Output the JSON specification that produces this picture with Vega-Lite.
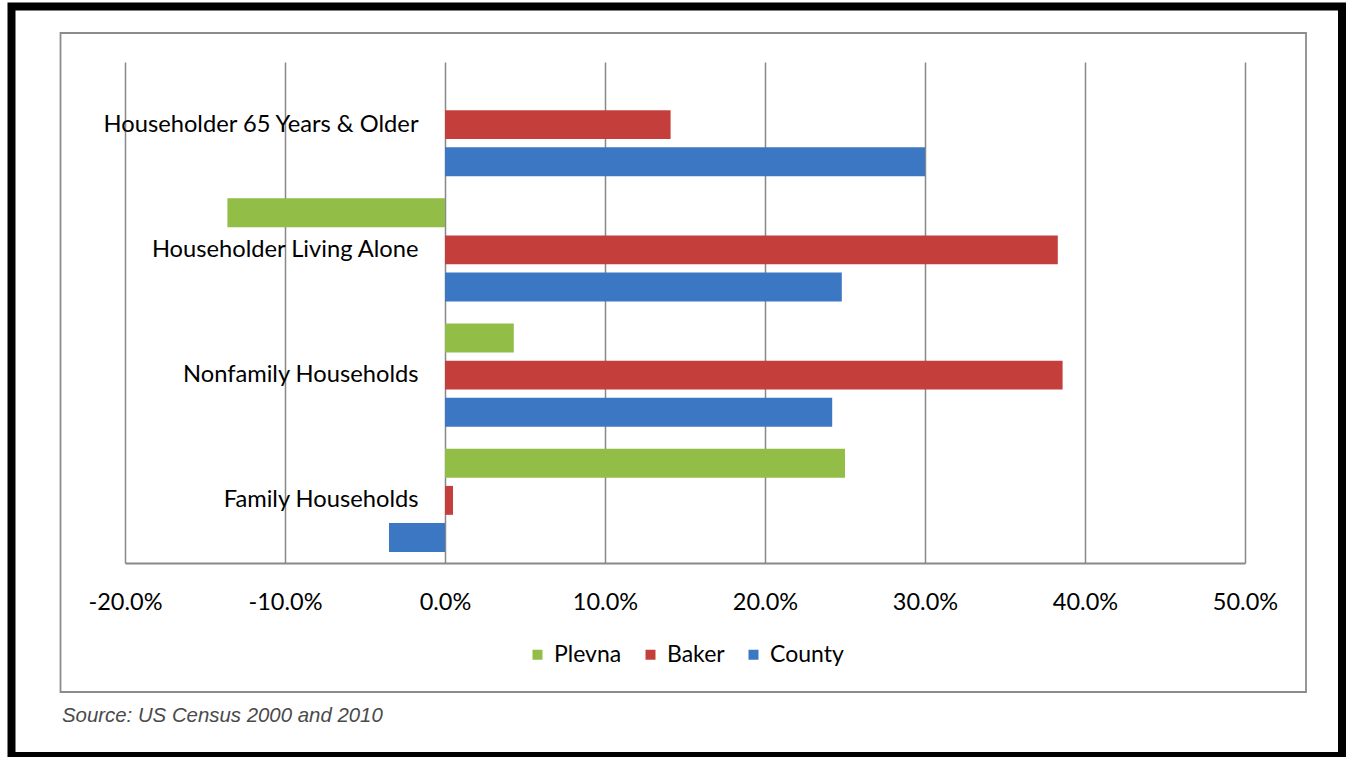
{
  "$schema": "https://vega.github.io/schema/vega-lite/v6.json",
  "width": 1120,
  "height": 501,
  "autosize": {"type": "none"},
  "padding": {"left": 125, "top": 62, "right": 103, "bottom": 194},
  "background": "white",
  "config": {
    "view": {"stroke": null},
    "font": "Lato"
  },
  "layer": [
    {
      "data": {"values": [{}]},
      "mark": {"type": "rect", "fill": null, "stroke": "#000000", "strokeWidth": 8},
      "encoding": {
        "x": {"datum": -0.27094, "type": "quantitative"},
        "x2": {"datum": 0.56063},
        "y": {"datum": 1.1108, "type": "quantitative", "scale": {"domain": [0, 1], "nice": false, "zero": false}, "axis": null},
        "y2": {"datum": -0.3852}
      }
    },
    {
      "data": {"values": [{}]},
      "mark": {"type": "rect", "fill": null, "stroke": "#8c8c8c", "strokeWidth": 1.8},
      "encoding": {
        "x": {"datum": -0.24031, "type": "quantitative"},
        "x2": {"datum": 0.53813},
        "y": {"datum": 1.0579, "type": "quantitative", "scale": {"domain": [0, 1], "nice": false, "zero": false}, "axis": null},
        "y2": {"datum": -0.2575}
      }
    },
    {
      "data": {"values": [{"source": "Source: US Census 2000 and 2010"}]},
      "mark": {"type": "text", "align": "left", "baseline": "middle", "font": "Liberation Sans", "fontStyle": "italic", "fontSize": 20.4, "color": "#4a4a4a"},
      "encoding": {
        "x": {"datum": -0.2394, "type": "quantitative"},
        "y": {"datum": -0.3054, "type": "quantitative", "scale": {"domain": [0, 1], "nice": false, "zero": false}, "axis": null},
        "text": {"field": "source"}
      }
    },
    {
      "data": {
        "values": [
          {"category": "Householder 65 Years & Older", "series": "Baker", "value": 0.141},
          {"category": "Householder 65 Years & Older", "series": "County", "value": 0.300},
          {"category": "Householder Living Alone", "series": "Plevna", "value": -0.136},
          {"category": "Householder Living Alone", "series": "Baker", "value": 0.383},
          {"category": "Householder Living Alone", "series": "County", "value": 0.248},
          {"category": "Nonfamily Households", "series": "Plevna", "value": 0.043},
          {"category": "Nonfamily Households", "series": "Baker", "value": 0.386},
          {"category": "Nonfamily Households", "series": "County", "value": 0.242},
          {"category": "Family Households", "series": "Plevna", "value": 0.250},
          {"category": "Family Households", "series": "Baker", "value": 0.005},
          {"category": "Family Households", "series": "County", "value": -0.035}
        ]
      },
      "mark": {"type": "bar"},
      "encoding": {
        "x": {
          "field": "value",
          "type": "quantitative",
          "scale": {"domain": [-0.2, 0.5], "nice": false, "zero": false},
          "axis": {
            "title": null,
            "values": [-0.2, -0.1, 0, 0.1, 0.2, 0.3, 0.4, 0.5],
            "format": ".1%",
            "labelExpr": "replace(datum.label, '−', '-')",
            "labelFlush": false,
            "grid": true,
            "gridColor": "#888888",
            "gridWidth": 1.5,
            "domain": true,
            "domainColor": "#888888",
            "domainWidth": 2,
            "ticks": false,
            "labelPadding": 27,
            "labelFont": "Lato",
            "labelFontSize": 23.5,
            "labelColor": "#000000"
          }
        },
        "y": {
          "field": "category",
          "type": "nominal",
          "sort": ["Householder 65 Years & Older", "Householder Living Alone", "Nonfamily Households", "Family Households"],
          "scale": {"paddingInner": 0, "paddingOuter": 0},
          "axis": {
            "title": null,
            "orient": "left",
            "offset": -320,
            "domain": false,
            "ticks": false,
            "grid": false,
            "labelPadding": 27,
            "labelFont": "Lato",
            "labelFontSize": 23.7,
            "labelColor": "#000000",
            "labelLimit": 0
          }
        },
        "yOffset": {
          "field": "series",
          "type": "nominal",
          "sort": ["Plevna", "Baker", "County"],
          "scale": {"paddingInner": 0.22, "paddingOuter": 0.3}
        },
        "color": {
          "field": "series",
          "type": "nominal",
          "sort": ["Plevna", "Baker", "County"],
          "scale": {"domain": ["Plevna", "Baker", "County"], "range": ["#92bd47", "#c43f3c", "#3c77c3"]},
          "legend": {
            "title": null,
            "orient": "none",
            "legendX": 401,
            "legendY": 581,
            "direction": "horizontal",
            "symbolType": "square",
            "symbolSize": 100,
            "symbolStrokeWidth": 0,
            "labelFont": "Lato",
            "labelFontSize": 23,
            "labelColor": "#000000",
            "labelOffset": 5,
            "columnPadding": 17,
            "padding": 0
          }
        }
      }
    }
  ],
  "resolve": {"scale": {"y": "independent"}}
}
